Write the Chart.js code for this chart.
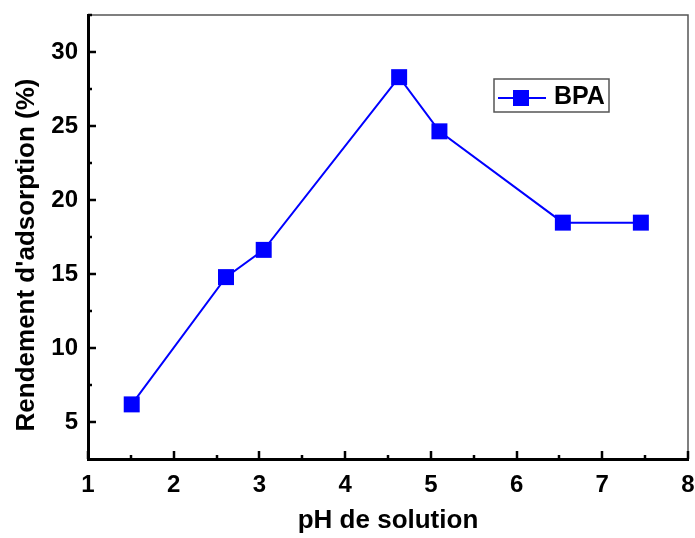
<!DOCTYPE html>
<html>
<head>
<meta charset="utf-8">
<script src="https://cdn.jsdelivr.net/npm/chart.js@4.4.0/dist/chart.umd.min.js"></script>
<style>
  html, body { margin: 0; padding: 0; background: #fff; }
  #wrap { width: 695px; height: 538px; }
</style>
</head>
<body>
<div id="wrap"><canvas id="myChart"></canvas></div>
<script>
// data
const phValues = [1.51, 2.61, 3.05, 4.63, 5.10, 6.54, 7.45];
const rendement = [6.19, 14.79, 16.63, 28.3, 24.64, 18.47, 18.47];
const xTicks = [1, 2, 3, 4, 5, 6, 7, 8];
const yTicks = [5, 10, 15, 20, 25, 30];
const seriesName = "BPA";
const xTitle = "pH de solution";
const yTitle = "Rendement d'adsorption (%)";

const blue = "#0000ff";
const fontFam = "'Liberation Sans', Arial, sans-serif";

// inward ticks, thin top/right frame, y title and the boxed legend
const frameStuff = {
  id: "frameStuff",
  afterDraw(chart) {
    const ctx = chart.ctx;
    const area = chart.chartArea;
    const xs = chart.scales.x;
    const ys = chart.scales.y;
    ctx.save();

    ctx.strokeStyle = "#555";
    ctx.lineWidth = 1.5;
    ctx.beginPath();
    ctx.moveTo(area.left, area.top);
    ctx.lineTo(area.right, area.top);
    ctx.lineTo(area.right, area.bottom);
    ctx.stroke();

    ctx.strokeStyle = "#000";
    ctx.lineWidth = 2.5;
    for (let v = xs.min; v <= xs.max + 0.01; v += 0.5) {
      const px = Math.round(xs.getPixelForValue(v));
      const len = Number.isInteger(v) ? 8 : 4;
      ctx.beginPath();
      ctx.moveTo(px, area.bottom);
      ctx.lineTo(px, area.bottom - len);
      ctx.stroke();
    }
    for (let v = 5; v <= ys.max + 0.01; v += 2.5) {
      const py = Math.round(ys.getPixelForValue(v));
      const len = (v % 5 === 0) ? 8 : 4;
      ctx.beginPath();
      ctx.moveTo(area.left, py);
      ctx.lineTo(area.left + len, py);
      ctx.stroke();
    }

    // y axis title
    ctx.fillStyle = "#000";
    ctx.font = "bold 26px " + fontFam;
    ctx.textAlign = "center";
    ctx.textBaseline = "middle";
    ctx.translate(27, (area.top + area.bottom) / 2 + 18);
    ctx.rotate(-Math.PI / 2);
    ctx.fillText(yTitle, 0, 0);
    ctx.setTransform(1, 0, 0, 1, 0, 0);

    // legend
    const bx = area.right - 194, by = area.top + 64;
    ctx.strokeStyle = "#555";
    ctx.lineWidth = 1.5;
    ctx.strokeRect(bx, by, 115, 33);
    ctx.strokeStyle = blue;
    ctx.lineWidth = 2;
    ctx.beginPath();
    ctx.moveTo(bx + 4, by + 19);
    ctx.lineTo(bx + 52, by + 19);
    ctx.stroke();
    ctx.fillStyle = blue;
    ctx.fillRect(bx + 19, by + 11, 16, 16);
    ctx.fillStyle = "#000";
    ctx.font = "bold 25px " + fontFam;
    ctx.textAlign = "left";
    ctx.fillText(seriesName, bx + 60, by + 18);

    ctx.restore();
  }
};

const ctx = document.getElementById("myChart");

new Chart(ctx, {
  type: "line",
  data: {
    datasets: [{
      label: seriesName,
      data: phValues.map((x, i) => ({ x: x, y: rendement[i] })),
      borderColor: blue,
      backgroundColor: blue,
      borderWidth: 2,
      pointStyle: "rect",
      pointRadius: 11.3,
      pointBorderWidth: 0,
      pointBackgroundColor: blue,
      tension: 0
    }]
  },
  options: {
    responsive: true,
    maintainAspectRatio: false,
    animation: false,
    layout: {
      autoPadding: false,
      padding: { top: 15, right: 7, bottom: 0, left: 0 }
    },
    plugins: {
      legend: { display: false },
      tooltip: { enabled: false }
    },
    scales: {
      x: {
        type: "linear",
        min: 1,
        max: 8,
        afterBuildTicks: (s) => { s.ticks = xTicks.map(v => ({ value: v })); },
        afterFit: (s) => {
          s.height = 79;
          s.paddingLeft = 0;
          s.paddingRight = 0;
        },
        grid: { display: false, drawTicks: false },
        border: { color: "#000", width: 3 },
        ticks: {
          color: "#000",
          padding: 12,
          maxRotation: 0,
          font: { family: fontFam, size: 24, weight: "bold" }
        },
        title: {
          display: true,
          text: xTitle,
          color: "#000",
          padding: { top: 0, bottom: 2 },
          font: { family: fontFam, size: 26, weight: "bold" }
        }
      },
      y: {
        type: "linear",
        min: 2.5,
        max: 32.5,
        afterBuildTicks: (s) => { s.ticks = yTicks.map(v => ({ value: v })); },
        afterFit: (s) => {
          s.width = 88;
          s.paddingTop = 0;
          s.paddingBottom = 0;
        },
        grid: { display: false, drawTicks: false },
        border: { color: "#000", width: 3 },
        ticks: {
          color: "#000",
          padding: 10,
          font: { family: fontFam, size: 24, weight: "bold" }
        }
      }
    }
  },
  plugins: [frameStuff]
});
</script>
</body>
</html>
